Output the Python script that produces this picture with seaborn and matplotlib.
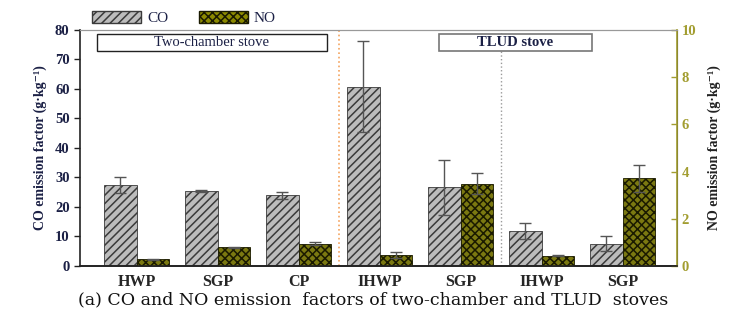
import numpy as np
import pandas as pd
import matplotlib
matplotlib.use("Agg")
import matplotlib.pyplot as plt
import seaborn as sns
from matplotlib.patches import Rectangle, Patch

# data
categories = ["HWP", "SGP", "CP", "IHWP", "SGP", "IHWP", "SGP"]
cat_keys = ["c0", "c1", "c2", "c3", "c4", "c5", "c6"]
co_values = [27.5, 25.5, 24.0, 60.8, 26.6, 11.8, 7.6]
co_err = [2.8, 0.3, 1.2, 15.4, 9.2, 2.8, 2.4]
no_values = [0.29, 0.80, 0.95, 0.46, 3.48, 0.44, 3.72]
no_err = [0.02, 0.02, 0.08, 0.12, 0.45, 0.03, 0.57]

CO_FACE = "#bcbcbc"
NO_FACE = "#8c8a00"
NAVY = "#1b2045"
OLIVE = "#a29d30"

plt.rcParams["hatch.linewidth"] = 1.1
sns.set_style("white")
plt.rcParams["font.family"] = ["Liberation Serif", "DejaVu Serif"]

# each axis gets both hue levels so seaborn dodges them; the other gas is a zero placeholder
zeros = [0.0] * len(cat_keys)
co_df = pd.DataFrame({"cat": cat_keys * 2, "val": co_values + zeros,
                      "gas": ["CO"] * 7 + ["NO"] * 7})
no_df = pd.DataFrame({"cat": cat_keys * 2, "val": zeros + no_values,
                      "gas": ["CO"] * 7 + ["NO"] * 7})

fig = plt.figure(figsize=(7.47, 3.22), dpi=100)
ax = fig.add_axes([0.107, 0.174, 0.799, 0.733])
ax2 = ax.twinx()

pal = {"CO": CO_FACE, "NO": NO_FACE}
sns.barplot(data=co_df, x="cat", y="val", hue="gas", hue_order=["CO", "NO"],
            order=cat_keys, palette=pal, width=0.8, ax=ax, legend=False, errorbar=None)
sns.barplot(data=no_df, x="cat", y="val", hue="gas", hue_order=["CO", "NO"],
            order=cat_keys, palette=pal, width=0.8, ax=ax2, legend=False, errorbar=None)

co_bars, no_bars = [], []
for p in ax.patches:
    if p.get_height() > 0:
        p.set_hatch("////")
        p.set_edgecolor("#3a3a3a")
        p.set_linewidth(0.6)
        co_bars.append(p)
    else:
        p.set_visible(False)
for p in ax2.patches:
    if p.get_height() > 0:
        p.set_hatch("xxxx")
        p.set_edgecolor("#1a1a00")
        p.set_linewidth(0.6)
        no_bars.append(p)
    else:
        p.set_visible(False)

co_x = [p.get_x() + p.get_width() / 2 for p in co_bars]
no_x = [p.get_x() + p.get_width() / 2 for p in no_bars]
ax.errorbar(co_x, co_values, yerr=co_err, fmt="none", ecolor="#555555",
            elinewidth=1.0, capsize=4.5, capthick=1.0, zorder=5)
ax2.errorbar(no_x, no_values, yerr=no_err, fmt="none", ecolor="#555555",
             elinewidth=1.0, capsize=4.5, capthick=1.0, zorder=5)

ax.set_xlim(-0.7, 6.67)
ax.set_ylim(0, 80)
ax2.set_ylim(0, 10)
ax.set_yticks(np.arange(0, 81, 10))
ax2.set_yticks(np.arange(0, 11, 2))

ax.set_xticks(range(len(categories)))
ax.set_xticklabels(categories, fontsize=11.5, fontweight="bold")
ax.set_xlabel("")
ax2.set_xlabel("")
ax.tick_params(axis="x", length=0, pad=6)
ax.tick_params(axis="y", direction="out", length=4, width=1, colors="#222222",
               labelsize=10.5, labelcolor=NAVY)
ax2.tick_params(axis="y", direction="in", length=4, width=1, colors=OLIVE,
                labelsize=10.5, labelcolor=OLIVE)
for lab in ax.get_yticklabels() + ax2.get_yticklabels():
    lab.set_fontweight("bold")

ax.set_ylabel("CO emission factor (g·kg⁻¹)", fontsize=10, fontweight="bold",
              color=NAVY, labelpad=6)
ax2.set_ylabel("NO emission factor (g·kg⁻¹)", fontsize=10, fontweight="bold",
               color="#222222", labelpad=8)

for side in ["left", "bottom"]:
    ax.spines[side].set_color("#222222")
    ax.spines[side].set_linewidth(1.2)
ax.spines["top"].set_color("#999999")
ax2.spines["top"].set_color("#999999")
ax2.spines["right"].set_color(OLIVE)
ax2.spines["right"].set_linewidth(1.2)
ax2.spines["left"].set_visible(False)
ax2.spines["bottom"].set_color("#222222")
ax2.spines["bottom"].set_linewidth(1.2)

ax.axvline(2.5, color="#f4a460", linestyle=":", linewidth=1.2, zorder=0)
ax.axvline(4.5, color="#9a9a9a", linestyle=":", linewidth=1.0, zorder=0)

ax.add_patch(Rectangle((-0.49, 72.8), 2.84, 5.8, facecolor="white",
                       edgecolor="#222222", linewidth=1.0, zorder=6))
ax.text(0.93, 75.7, "Two-chamber stove", ha="center", va="center",
        fontsize=10.5, color=NAVY, zorder=7)
ax.add_patch(Rectangle((3.73, 72.8), 1.89, 5.8, facecolor="white",
                       edgecolor="#777777", linewidth=1.2, zorder=6))
ax.text(4.67, 75.7, "TLUD stove", ha="center", va="center",
        fontsize=10.5, fontweight="bold", color=NAVY, zorder=7)

handles = [Patch(facecolor=CO_FACE, edgecolor="#3a3a3a", hatch="////", label="CO"),
           Patch(facecolor=NO_FACE, edgecolor="#1a1a00", hatch="xxxx", label="NO")]
fig.legend(handles=handles, loc="upper left", bbox_to_anchor=(0.105, 1.01), ncol=2,
           frameon=False, fontsize=11, handlelength=3.2, handleheight=0.9,
           columnspacing=2.0, handletextpad=0.4, labelcolor=NAVY)

fig.text(0.5, 0.068, "(a) CO and NO emission  factors of two-chamber and TLUD  stoves",
         ha="center", va="center", fontsize=12.5, family=["DejaVu Serif"], color="#111111")

fig.savefig("out.png", dpi=100)
